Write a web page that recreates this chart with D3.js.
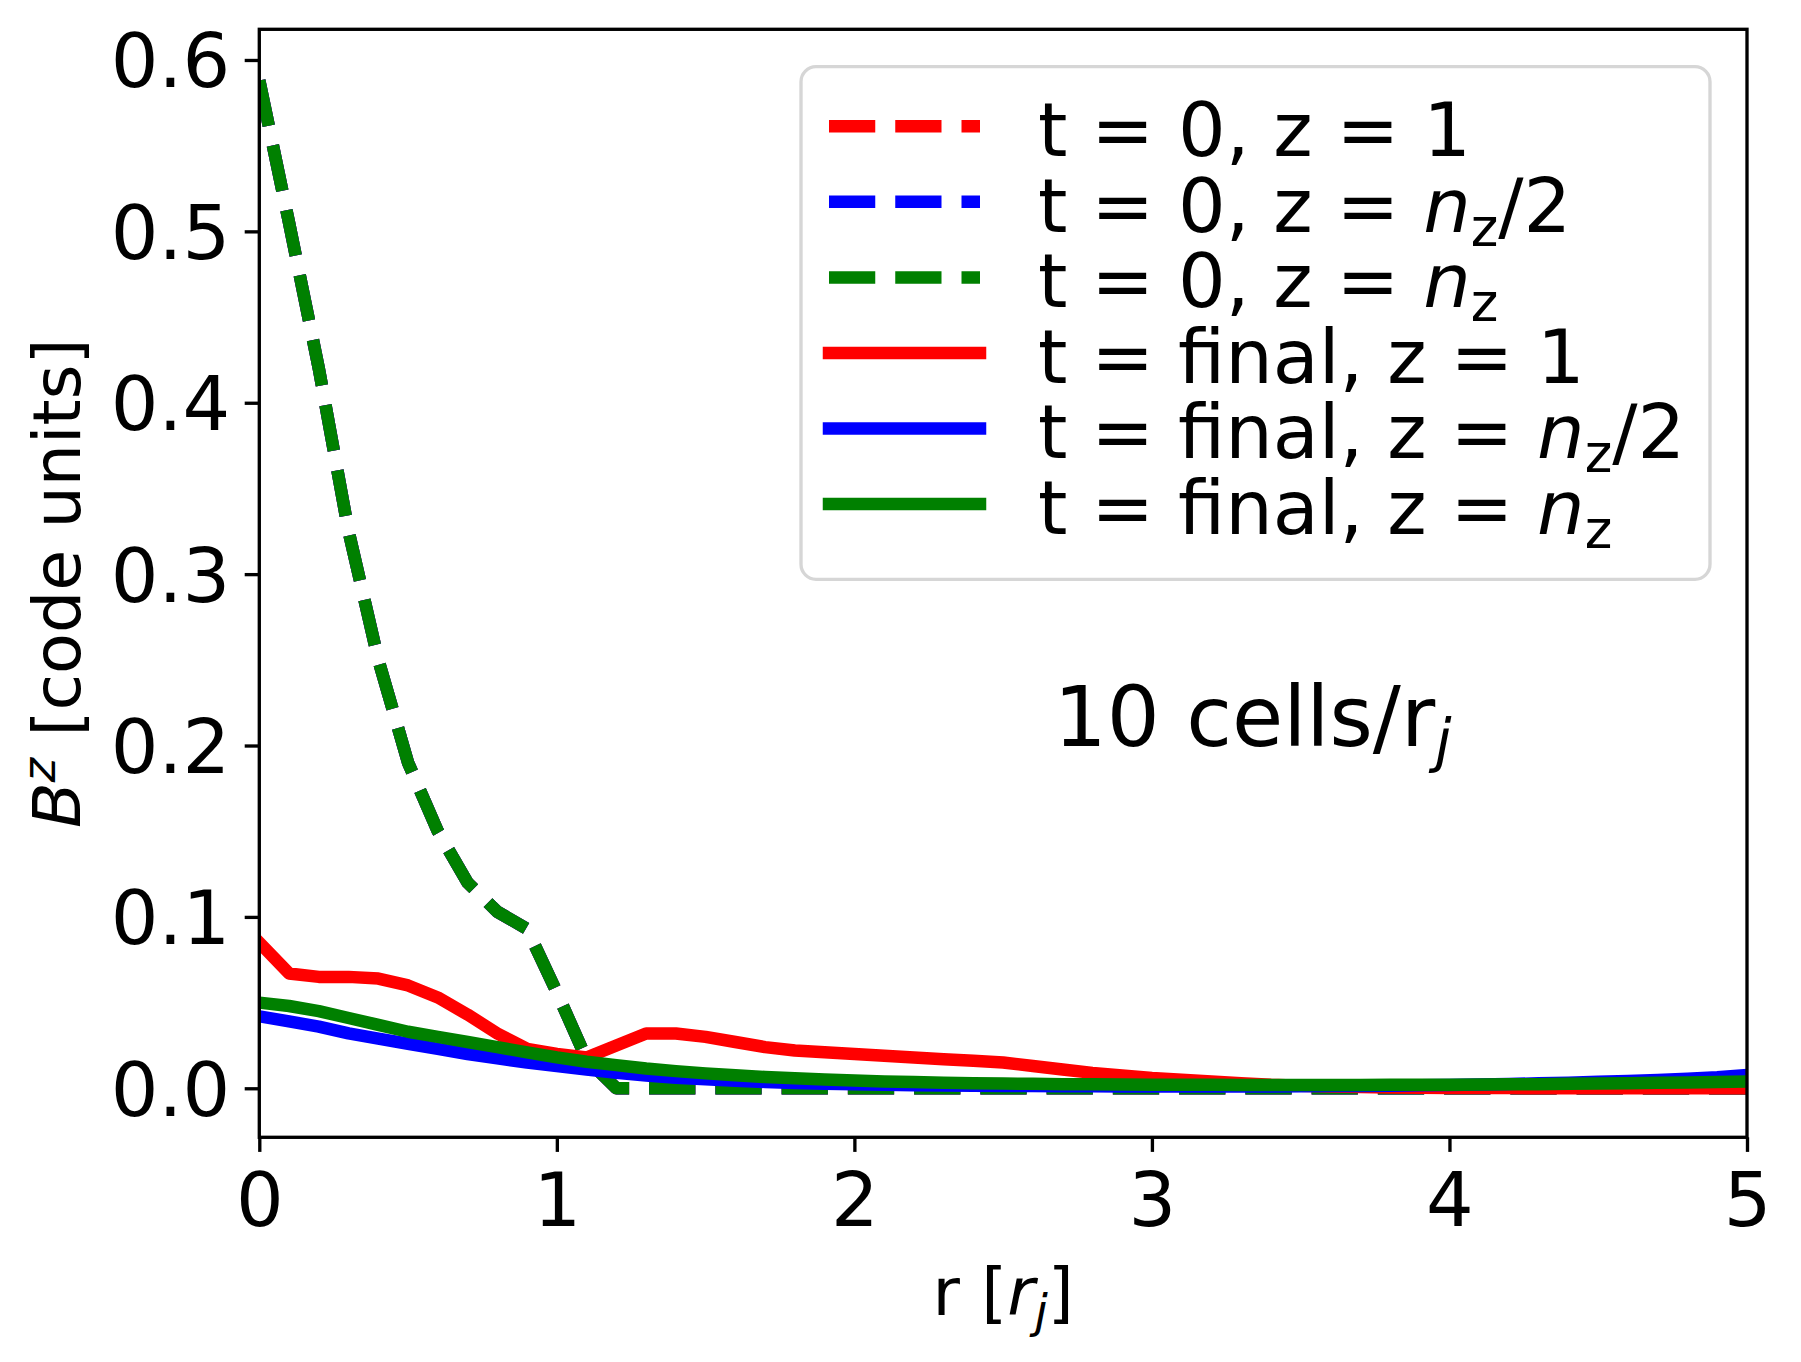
<!DOCTYPE html>
<meta charset="utf-8">
<style>
body { margin: 0; background: #fff; }
text { font-family: "DejaVu Sans", sans-serif; fill: #000; }
.series { fill: none; stroke-width: 12.5; }
</style>
<svg width="1801" height="1362"></svg>
<script src="https://cdn.jsdelivr.net/npm/d3@7"></script>
<script>

var svg = d3.select("svg"),
    width = +svg.attr("width"),
    height = +svg.attr("height");

// r grid [r_j], 10 cells per r_j
var r = [0.0, 0.1, 0.2, 0.3, 0.4, 0.5, 0.6, 0.7, 0.8, 0.9,
         1.0, 1.1, 1.2, 1.3, 1.4, 1.5, 1.6, 1.7, 1.8, 1.9,
         2.0, 2.1, 2.2, 2.3, 2.4, 2.5, 2.6, 2.7, 2.8, 2.9,
         3.0, 3.1, 3.2, 3.3, 3.4, 3.5, 3.6, 3.7, 3.8, 3.9,
         4.0, 4.1, 4.2, 4.3, 4.4, 4.5, 4.6, 4.7, 4.8, 4.9, 5.0];

// t = 0 (same initial profile at every z)
var t0_z1 = [0.588, 0.505, 0.42, 0.325, 0.25, 0.19, 0.15, 0.12, 0.103, 0.093,
             0.056, 0.017, 0, 0, 0, 0, 0, 0, 0, 0,
             0, 0, 0, 0, 0, 0, 0, 0, 0, 0,
             0, 0, 0, 0, 0, 0, 0, 0, 0, 0,
             0, 0, 0, 0, 0, 0, 0, 0, 0, 0, 0];
var t0_zhalf = [0.588, 0.505, 0.42, 0.325, 0.25, 0.19, 0.15, 0.12, 0.103, 0.093,
                0.056, 0.017, 0, 0, 0, 0, 0, 0, 0, 0,
                0, 0, 0, 0, 0, 0, 0, 0, 0, 0,
                0, 0, 0, 0, 0, 0, 0, 0, 0, 0,
                0, 0, 0, 0, 0, 0, 0, 0, 0, 0, 0];
var t0_znz = [0.588, 0.505, 0.42, 0.325, 0.25, 0.19, 0.15, 0.12, 0.103, 0.093,
              0.056, 0.017, 0, 0, 0, 0, 0, 0, 0, 0,
              0, 0, 0, 0, 0, 0, 0, 0, 0, 0,
              0, 0, 0, 0, 0, 0, 0, 0, 0, 0,
              0, 0, 0, 0, 0, 0, 0, 0, 0, 0, 0];

// t = final
var tf_z1 = [0.085, 0.067, 0.065, 0.065, 0.064, 0.060, 0.053, 0.043, 0.032, 0.023,
             0.020, 0.018, 0.025, 0.032, 0.032, 0.030, 0.027, 0.024, 0.022, 0.021,
             0.020, 0.019, 0.018, 0.017, 0.016, 0.015, 0.013, 0.011, 0.009, 0.0075,
             0.006, 0.005, 0.004, 0.003, 0.002, 0.0015, 0.001, 0.0008, 0.0005, 0.0003,
             0.0002, 0.0001, 0.0001, 0, 0, 0, 0, 0, 0, 0, 0];
var tf_zhalf = [0.042, 0.039, 0.036, 0.032, 0.029, 0.026, 0.023, 0.020, 0.0175, 0.015,
                0.013, 0.011, 0.009, 0.0075, 0.0062, 0.0052, 0.0044, 0.0037, 0.0031, 0.0027,
                0.0023, 0.002, 0.0018, 0.0016, 0.0015, 0.0014, 0.0013, 0.0012, 0.0012, 0.0011,
                0.0011, 0.0011, 0.0011, 0.0011, 0.0011, 0.0012, 0.0013, 0.0014, 0.0015, 0.0017,
                0.0019, 0.0022, 0.0025, 0.0029, 0.0033, 0.0038, 0.0043, 0.0049, 0.0056, 0.0065, 0.0078];
var tf_znz = [0.050, 0.048, 0.045, 0.041, 0.037, 0.033, 0.030, 0.027, 0.024, 0.021,
              0.018, 0.0155, 0.0135, 0.0115, 0.010, 0.0087, 0.0076, 0.0066, 0.0058, 0.0051,
              0.0045, 0.004, 0.0036, 0.0033, 0.003, 0.0028, 0.0026, 0.0024, 0.0023, 0.0022,
              0.0021, 0.002, 0.002, 0.0019, 0.0019, 0.0019, 0.0019, 0.0019, 0.002, 0.002,
              0.0021, 0.0022, 0.0023, 0.0024, 0.0026, 0.0028, 0.003, 0.0032, 0.0034, 0.0036, 0.0039];

var xTicks = [0, 1, 2, 3, 4, 5];
var yTicks = [0.0, 0.1, 0.2, 0.3, 0.4, 0.5, 0.6];

var series = [
  {values: t0_z1,    color: "red",   dashed: true,  label: ["0", "1"]},
  {values: t0_zhalf, color: "blue",  dashed: true,  label: ["0", "nz/2"]},
  {values: t0_znz,   color: "green", dashed: true,  label: ["0", "nz"]},
  {values: tf_z1,    color: "red",   dashed: false, label: ["final", "1"]},
  {values: tf_zhalf, color: "blue",  dashed: false, label: ["final", "nz/2"]},
  {values: tf_znz,   color: "green", dashed: false, label: ["final", "nz"]}
];

// axes box in pixels (window.top is reserved, so prefix the names)
var axLeft = 259.3, axRight = 1747, axTop = 29.3, axBottom = 1137.3;
var fs = 75, labelFs = 66.7, annFs = 83.3;
var dash = "46.25,20";

svg.append("rect").attr("width", width).attr("height", height).attr("fill", "#fff");

var x = d3.scaleLinear().domain([0, 5]).range([axLeft, axRight]);
var y = d3.scaleLinear().domain([-0.0286, 0.6179]).range([axBottom, axTop]);

svg.append("clipPath").attr("id", "plot")
  .append("rect")
    .attr("x", axLeft).attr("y", axTop)
    .attr("width", axRight - axLeft).attr("height", axBottom - axTop);

var line = d3.line()
    .x(function(d, i) { return x(r[i]); })
    .y(function(d) { return y(d); });

svg.append("g")
    .attr("clip-path", "url(#plot)")
  .selectAll("path")
  .data(series)
  .enter().append("path")
    .attr("class", "series")
    .attr("d", function(d) { return line(d.values); })
    .attr("stroke", function(d) { return d.color; })
    .attr("stroke-dasharray", function(d) { return d.dashed ? dash : null; })
    .attr("stroke-linecap", function(d) { return d.dashed ? "butt" : "square"; })
    .attr("stroke-linejoin", "round");

// axes
var xAxis = svg.append("g")
    .attr("transform", "translate(0," + axBottom + ")")
    .call(d3.axisBottom(x).tickValues(xTicks).tickFormat(d3.format("d"))
      .tickSize(14.6).tickPadding(14.6));
var yAxis = svg.append("g")
    .attr("transform", "translate(" + axLeft + ",0)")
    .call(d3.axisLeft(y).tickValues(yTicks).tickFormat(d3.format(".1f"))
      .tickSize(14.6).tickPadding(14.6));

[xAxis, yAxis].forEach(function(a) {
  a.select(".domain").remove();
  a.selectAll(".tick line").attr("stroke", "#000").attr("stroke-width", 3.33);
  a.selectAll(".tick text").attr("font-size", fs).attr("font-family", "DejaVu Sans").attr("fill", "#000");
});
xAxis.selectAll(".tick text").attr("dy", null).attr("y", 1226 - axBottom);
yAxis.selectAll(".tick text").attr("dy", "0.36em");

svg.append("rect")
    .attr("x", axLeft).attr("y", axTop)
    .attr("width", axRight - axLeft).attr("height", axBottom - axTop)
    .attr("fill", "none").attr("stroke", "#000").attr("stroke-width", 3.33);

// axis labels
var xl = svg.append("text")
    .attr("x", (axLeft + axRight) / 2).attr("y", 1315)
    .attr("text-anchor", "middle").attr("font-size", labelFs);
xl.append("tspan").text("r [");
xl.append("tspan").attr("font-style", "italic").text("r");
xl.append("tspan").attr("font-style", "italic").attr("font-size", labelFs * 0.7).attr("dy", 12).text("j");
xl.append("tspan").attr("dy", -12).text("]");

var yl = svg.append("text")
    .attr("transform", "translate(80," + ((axTop + axBottom) / 2) + ") rotate(-90)")
    .attr("text-anchor", "middle").attr("font-size", labelFs);
yl.append("tspan").attr("font-style", "italic").text("B");
yl.append("tspan").attr("font-style", "italic").attr("font-size", labelFs * 0.7).attr("dy", -25).text("z");
yl.append("tspan").attr("dy", 25).text(" [code units]");

// annotation
var ann = svg.append("text")
    .attr("x", x(2.7) - 9).attr("y", y(0.2))
    .attr("font-size", annFs);
ann.append("tspan").text("10 cells/r");
ann.append("tspan").attr("font-style", "italic").attr("font-size", annFs * 0.7).attr("dy", 15).text("j");

// legend
var legend = svg.append("g");
legend.append("rect")
    .attr("x", 801).attr("y", 66.7)
    .attr("width", 1710 - 801).attr("height", 579.3 - 66.7)
    .attr("rx", 15).attr("ry", 15)
    .attr("fill", "#fff").attr("fill-opacity", 0.8)
    .attr("stroke", "#d6d6d6").attr("stroke-width", 3.33);

var rowY = d3.scaleLinear().domain([0, 5]).range([126.3, 504]);

var item = legend.selectAll(".item")
  .data(series)
  .enter().append("g")
    .attr("class", "item")
    .attr("transform", function(d, i) { return "translate(0," + rowY(i) + ")"; });

item.append("line")
    .attr("x1", 829).attr("x2", 980)
    .attr("stroke", function(d) { return d.color; })
    .attr("stroke-width", 12.5)
    .attr("stroke-dasharray", function(d) { return d.dashed ? dash : null; })
    .attr("stroke-linecap", function(d) { return d.dashed ? "butt" : "square"; });

item.each(function(d) {
  var t = d3.select(this).append("text")
      .attr("x", 1038).attr("y", 30)
      .attr("font-size", fs);
  t.append("tspan").text("t = " + d.label[0] + ", z = ");
  if (d.label[1] === "1") {
    t.append("tspan").text("1");
  } else {
    t.append("tspan").attr("font-style", "italic").text("n");
    t.append("tspan").attr("font-size", fs * 0.7).attr("dy", 14).text("z");
    if (d.label[1] === "nz/2") {
      t.append("tspan").attr("dy", -14).text("/2");
    }
  }
});

</script>
